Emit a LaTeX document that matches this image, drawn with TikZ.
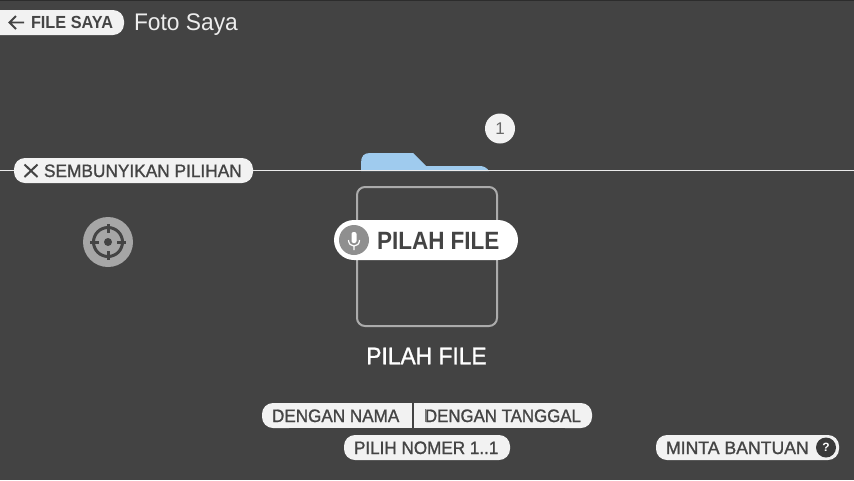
\documentclass[tikz,border=0pt]{standalone}
\usepackage{fontspec}
\setmainfont{Liberation Sans}
\newfontfamily\medfont[FakeBold=1.2]{Liberation Sans}
\definecolor{bg}{HTML}{434343}
\definecolor{pill}{HTML}{F2F2F2}
\definecolor{ink}{HTML}{444444}
\definecolor{folder}{HTML}{9FCBEE}
\definecolor{frameg}{HTML}{ABABAB}
\definecolor{micg}{HTML}{8F8F8F}
\definecolor{targetg}{HTML}{A6A6A6}
\newcommand{\fz}[1]{\fontsize{#1}{#1}\selectfont}
\tikzset{
  every node/.style={inner sep=0pt,outer sep=0pt},
  pilltext/.style={text=ink,anchor=base west,font=\medfont\fz{18}},
  pillfill/.style={fill=pill,rounded corners=11pt},
  glyph/.style={draw=ink,line width=2pt}
}
\begin{document}
\begin{tikzpicture}[x=1pt,y=-1pt]
\useasboundingbox (0,0) rectangle (854,480);
\fill[bg] (0,0) rectangle (854,480);
\fill[black!35!bg] (0,0) rectangle (854,1);
% folder
\fill[folder] (361,171) -- (361,163) .. controls (361,156) and (364,153) .. (370,153) -- (413,153) -- (426,166) -- (480,166) .. controls (484,166) and (487,168) .. (489,171) -- cycle;
% divider line
\coordinate (lineL) at (0,170.5);
\coordinate (lineR) at (854,170.5);
\draw[white!92!black,line width=1pt] (lineL) -- (lineR);
% header
\fill[pillfill] (-12,10) rectangle (124,35);
\draw[glyph,line width=1.8pt] (24,22.5) -- (10,22.5) (16,16) -- (9.5,22.5) -- (16,29);
\node[pilltext,font=\bfseries\fz{17.5}] (filesaya) at (31,28.5) {\scalebox{.93}[1]{FILE SAYA}};
\node[anchor=base west,text=white!93!black,font=\fz{24}] (foto) at (134,30) {\scalebox{.95}[1]{Foto Saya}};
% hide options
\fill[pillfill] (14,158) rectangle (253,183);
\draw[glyph] (24.5,164.5) -- (37.5,177) (37.5,164.5) -- (24.5,177);
\node[pilltext] (hide) at (44,177) {\scalebox{.96}[1]{SEMBUNYIKAN PILIHAN}};
% target
\node[circle,fill=targetg,minimum size=50pt] (target) at (108,242) {};
\draw[ink,line width=3pt] (target) circle (14.5pt);
\fill[ink] (target) circle (4pt);
\draw[ink,line width=3pt] (108,224) -- (108,233) (108,251) -- (108,260) (90,242) -- (99,242) (117,242) -- (126,242);
% badge
\node[circle,fill=pill,minimum size=30pt,text=ink!80!white,font=\fz{17}] (badge) at (500,128.5) {1};
% frame
\draw[frameg,line width=2pt,rounded corners=8pt] (357,187) rectangle (497,326);
% voice pill
\fill[white,rounded corners=20pt] (334,220) rectangle (518,260);
\node[circle,fill=micg,minimum size=30pt] (mic) at (354,240) {};
\fill[white,rounded corners=2pt] (351.5,232) rectangle (356.5,243);
\draw[white,line width=1.2pt] (348.5,240) .. controls (348.5,248) and (359.5,248) .. (359.5,240) (354,246) -- (354,250);
\node[anchor=base west,text=ink,font=\bfseries\fz{25}] (pilah) at (377,249) {\scalebox{.90}[1]{PILAH FILE}};
% caption
\node[text=white,font=\medfont\fz{24}] (caption) at (426.5,356) {\scalebox{.95}[1]{PILAH FILE}};
% sort pills
\fill[pillfill] (262,403) rectangle (300,428);
\fill[pill] (285,403) rectangle (412,428);
\fill[pill] (414,403) rectangle (570,428);
\fill[pillfill] (554,403) rectangle (592,428);
\fill[ink!70!pill] (425,409) rectangle (426.2,422);
\node[pilltext] (name) at (272,422) {\scalebox{.95}[1]{DENGAN NAMA}};
\node[pilltext] (date) at (425,422) {\scalebox{.935}[1]{DENGAN TANGGAL}};
\fill[pillfill] (344,435) rectangle (510,460);
\node[pilltext] (num) at (354,454) {\scalebox{.95}[1]{PILIH NOMER 1..1}};
\fill[pillfill] (656,435) rectangle (839,460);
\node[pilltext] (help) at (666,454) {\scalebox{.98}[1]{MINTA BANTUAN}};
\node[circle,fill=ink!85!black,minimum size=20pt,text=white,font=\bfseries\fz{12}] (q) at (826,447.5) {?};
\end{tikzpicture}
\end{document}
